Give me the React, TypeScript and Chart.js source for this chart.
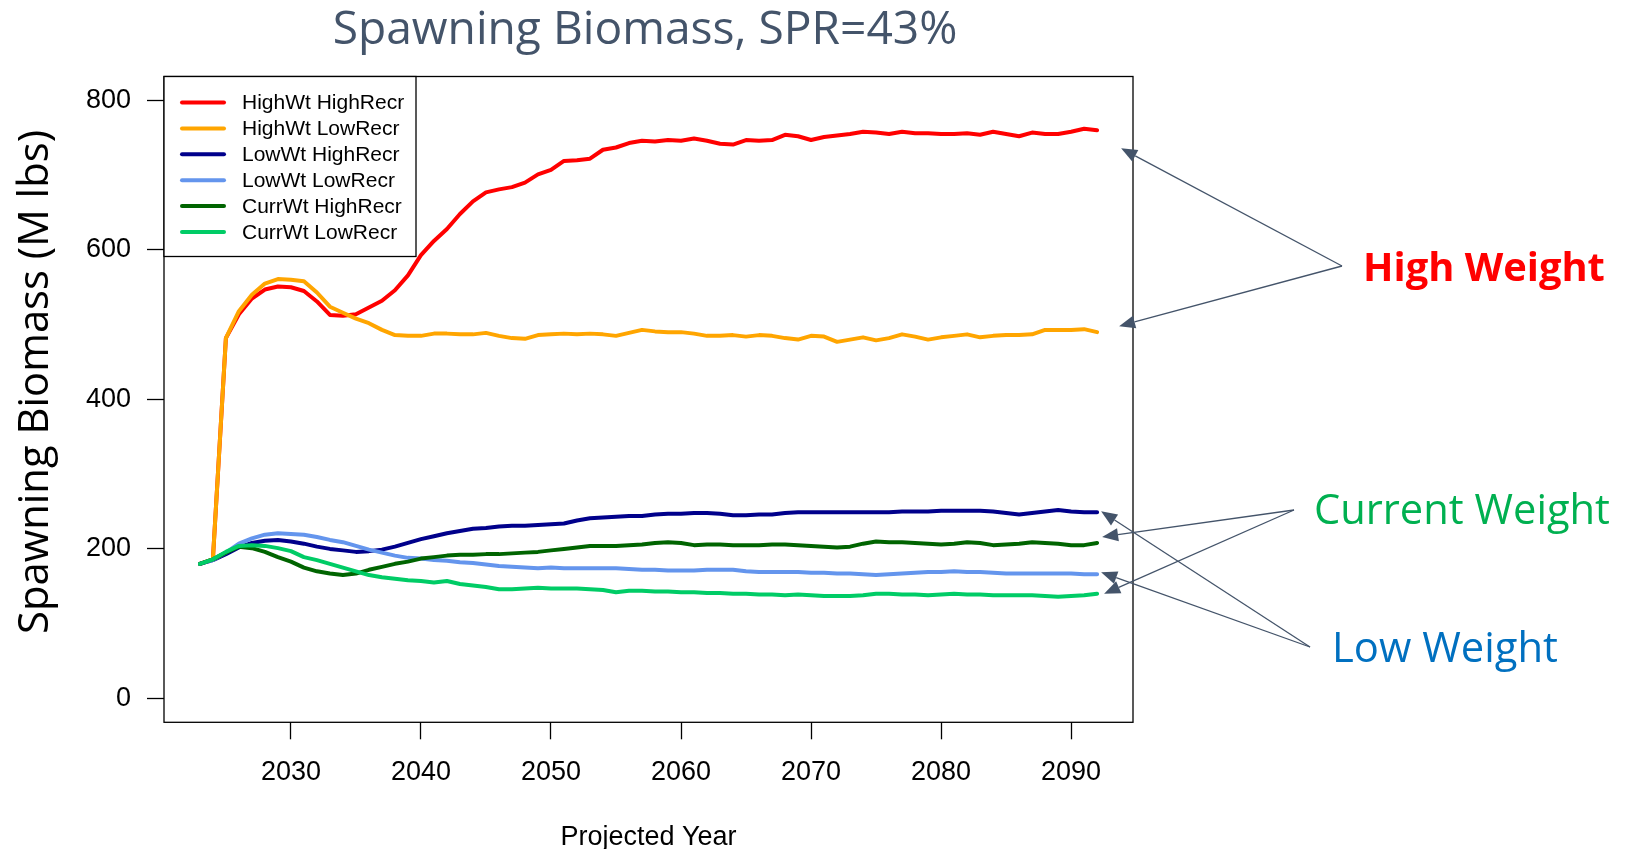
import React, { useEffect, useRef } from "react";
import { Chart, registerables } from "chart.js";

Chart.register(...registerables);

const years = [
  2023, 2024, 2025, 2026, 2027, 2028, 2029, 2030, 2031, 2032,
  2033, 2034, 2035, 2036, 2037, 2038, 2039, 2040, 2041, 2042,
  2043, 2044, 2045, 2046, 2047, 2048, 2049, 2050, 2051, 2052,
  2053, 2054, 2055, 2056, 2057, 2058, 2059, 2060, 2061, 2062,
  2063, 2064, 2065, 2066, 2067, 2068, 2069, 2070, 2071, 2072,
  2073, 2074, 2075, 2076, 2077, 2078, 2079, 2080, 2081, 2082,
  2083, 2084, 2085, 2086, 2087, 2088, 2089, 2090, 2091, 2092,
];

const highWtHighRecr = [
  180, 186, 482, 514, 535, 547, 551, 550, 545, 531,
  513, 512, 514, 523, 532, 546, 566, 593, 612, 628,
  648, 665, 677, 681, 684, 690, 701, 707, 719, 720,
  722, 734, 737, 743, 746, 745, 747, 746, 749, 746,
  742, 741, 747, 746, 747, 754, 752, 747, 751, 753,
  755, 758, 757, 755, 758, 756, 756, 755, 755, 756,
  754, 758, 755, 752, 757, 755, 755, 758, 762, 760,
];

const highWtLowRecr = [
  180, 186, 482, 518, 540, 555, 561, 560, 558, 543,
  524, 516, 508, 502, 493, 486, 485, 485, 488, 488,
  487, 487, 489, 485, 482, 481, 486, 487, 488, 487,
  488, 487, 485, 489, 493, 491, 490, 490, 488, 485,
  485, 486, 484, 486, 485, 482, 480, 485, 484, 477,
  480, 483, 479, 482, 487, 484, 480, 483, 485, 487,
  483, 485, 486, 486, 487, 493, 493, 493, 494, 490,
];

const lowWtHighRecr = [
  180, 185, 193, 202, 208, 211, 212, 210, 207, 203,
  200, 198, 196, 197, 199, 203, 208, 213, 217, 221,
  224, 227, 228, 230, 231, 231, 232, 233, 234, 238,
  241, 242, 243, 244, 244, 246, 247, 247, 248, 248,
  247, 245, 245, 246, 246, 248, 249, 249, 249, 249,
  249, 249, 249, 249, 250, 250, 250, 251, 251, 251,
  251, 250, 248, 246, 248, 250, 252, 250, 249, 249,
];

const lowWtLowRecr = [
  180, 185, 195, 207, 214, 219, 221, 220, 219, 216,
  212, 209, 204, 199, 195, 191, 188, 187, 185, 184,
  182, 181, 179, 177, 176, 175, 174, 175, 174, 174,
  174, 174, 174, 173, 172, 172, 171, 171, 171, 172,
  172, 172, 170, 169, 169, 169, 169, 168, 168, 167,
  167, 166, 165, 166, 167, 168, 169, 169, 170, 169,
  169, 168, 167, 167, 167, 167, 167, 167, 166, 166,
];

const currWtHighRecr = [
  180, 186, 195, 203, 201, 196, 189, 183, 175, 170,
  167, 165, 167, 172, 176, 180, 183, 187, 189, 191,
  192, 192, 193, 193, 194, 195, 196, 198, 200, 202,
  204, 204, 204, 205, 206, 208, 209, 208, 205, 206,
  206, 205, 205, 205, 206, 206, 205, 204, 203, 202,
  203, 207, 210, 209, 209, 208, 207, 206, 207, 209,
  208, 205, 206, 207, 209, 208, 207, 205, 205, 208,
];

const currWtLowRecr = [
  180, 186, 196, 204, 205, 204, 201, 197, 189, 185,
  180, 175, 170, 165, 162, 160, 158, 157, 155, 157,
  153, 151, 149, 146, 146, 147, 148, 147, 147, 147,
  146, 145, 142, 144, 144, 143, 143, 142, 142, 141,
  141, 140, 140, 139, 139, 138, 139, 138, 137, 137,
  137, 138, 140, 140, 139, 139, 138, 139, 140, 139,
  139, 138, 138, 138, 138, 137, 136, 137, 138, 140,
];

const seriesLabels = [
  "HighWt HighRecr",
  "HighWt LowRecr",
  "LowWt HighRecr",
  "LowWt LowRecr",
  "CurrWt HighRecr",
  "CurrWt LowRecr",
];
const seriesValues = [
  highWtHighRecr,
  highWtLowRecr,
  lowWtHighRecr,
  lowWtLowRecr,
  currWtHighRecr,
  currWtLowRecr,
];
const seriesColors = ["#ff0000", "#ffa500", "#00008b", "#6495ed", "#006400", "#00cc66"];

const xTicks = [2030, 2040, 2050, 2060, 2070, 2080, 2090];
const yTicks = [0, 200, 400, 600, 800];

const titleText = "Spawning Biomass, SPR=43%";
const xTitleText = "Projected Year";
const yTitleText = "Spawning Biomass (M lbs)";

const annotationLabels = ["High Weight", "Current Weight", "Low Weight"];
const annotationColors = ["#ff0000", "#00b050", "#0070c0"];
const annotationSeries = [
  [0, 1],
  [4, 5],
  [2, 3],
];

const SLATE = "#44546a";
const ARIAL = "'Liberation Sans', Arial, sans-serif";
const CALIBRI = "'Open Sans', 'Noto Sans', sans-serif";

// layout (pixels)
const annotationLayout = [
  { left: 1363, baseline: 281, width: 242, bold: true, apex: [1342, 266], offs: [[24, 18], [22, -6]] },
  { left: 1314, baseline: 524, width: 296, bold: false, apex: [1294, 510], offs: [[5, -6], [7, 0]] },
  { left: 1332, baseline: 662, width: 226, bold: false, apex: [1310, 647], offs: [[4, -1], [4, -2]] },
];

function fitSize(ctx: CanvasRenderingContext2D, text: string, weight: string, family: string, width: number) {
  ctx.font = `${weight} 100px ${family}`;
  const w = ctx.measureText(text).width;
  return (100 * width) / w;
}

function drawArrow(ctx: CanvasRenderingContext2D, x0: number, y0: number, x1: number, y1: number) {
  const ang = Math.atan2(y1 - y0, x1 - x0);
  const len = 16;
  const half = 6.5;
  const bx = x1 - len * Math.cos(ang);
  const by = y1 - len * Math.sin(ang);
  ctx.beginPath();
  ctx.moveTo(x0, y0);
  ctx.lineTo(bx, by);
  ctx.stroke();
  ctx.beginPath();
  ctx.moveTo(x1, y1);
  ctx.lineTo(bx + half * Math.sin(ang), by - half * Math.cos(ang));
  ctx.lineTo(bx - half * Math.sin(ang), by + half * Math.cos(ang));
  ctx.closePath();
  ctx.fill();
}

const overlayPlugin = {
  id: "overlay",
  afterDraw(chart: any) {
    const { ctx, chartArea: a, scales } = chart;
    const xs = scales.x;
    const ys = scales.y;
    ctx.save();

    // plot box
    ctx.strokeStyle = "#000";
    ctx.lineWidth = 1.3;
    ctx.strokeRect(a.left, a.top, a.right - a.left, a.bottom - a.top);

    // legend
    const lx = a.left;
    const ly = a.top;
    const lw = 252;
    const lh = 180;
    ctx.fillStyle = "#fff";
    ctx.fillRect(lx, ly, lw, lh);
    ctx.strokeRect(lx, ly, lw, lh);
    ctx.font = `21px ${ARIAL}`;
    ctx.textBaseline = "middle";
    ctx.textAlign = "left";
    chart.data.datasets.forEach((ds: any, i: number) => {
      const y = ly + 26 + i * 25.9;
      ctx.strokeStyle = ds.borderColor;
      ctx.lineWidth = 4;
      ctx.lineCap = "round";
      ctx.beginPath();
      ctx.moveTo(lx + 18, y);
      ctx.lineTo(lx + 60, y);
      ctx.stroke();
      ctx.fillStyle = "#000";
      ctx.fillText(ds.label, lx + 78, y + 1);
    });
    ctx.lineCap = "butt";

    // title
    const ts = fitSize(ctx, titleText, "normal", CALIBRI, 625);
    ctx.font = `normal ${ts}px ${CALIBRI}`;
    ctx.fillStyle = SLATE;
    ctx.textAlign = "center";
    ctx.textBaseline = "alphabetic";
    ctx.fillText(titleText, 645, 44);

    // x title
    ctx.font = `27px ${ARIAL}`;
    ctx.fillStyle = "#000";
    ctx.fillText(xTitleText, (a.left + a.right) / 2, 845);

    // y title
    const ys2 = fitSize(ctx, yTitleText, "normal", CALIBRI, 504);
    ctx.save();
    ctx.translate(48, 382);
    ctx.rotate(-Math.PI / 2);
    ctx.font = `normal ${ys2}px ${CALIBRI}`;
    ctx.fillStyle = "#000";
    ctx.textAlign = "center";
    ctx.fillText(yTitleText, 0, 0);
    ctx.restore();

    // annotations
    annotationLabels.forEach((label, k) => {
      const L = annotationLayout[k];
      const weight = L.bold ? "bold" : "normal";
      const size = fitSize(ctx, label, weight, CALIBRI, L.width);
      ctx.font = `${weight} ${size}px ${CALIBRI}`;
      ctx.fillStyle = annotationColors[k];
      ctx.textAlign = "left";
      ctx.textBaseline = "alphabetic";
      ctx.fillText(label, L.left, L.baseline);

      ctx.strokeStyle = SLATE;
      ctx.fillStyle = SLATE;
      ctx.lineWidth = 1.3;
      annotationSeries[k].forEach((si, j) => {
        const vals = seriesValues[si];
        const tx = xs.getPixelForValue(years[years.length - 1]) + L.offs[j][0];
        const ty = ys.getPixelForValue(vals[vals.length - 1]) + L.offs[j][1];
        drawArrow(ctx, L.apex[0], L.apex[1], tx, ty);
      });
    });

    ctx.restore();
  },
};

export default function App() {
  const canvasRef = useRef<HTMLCanvasElement | null>(null);

  useEffect(() => {
    document.body.style.margin = "0";
    document.body.style.overflow = "hidden";
    const canvas = canvasRef.current;
    if (!canvas) return;

    const datasets = seriesLabels.map((label, i) => ({
      label,
      data: years.map((yr, j) => ({ x: yr, y: seriesValues[i][j] })),
      borderColor: seriesColors[i],
      backgroundColor: seriesColors[i],
      borderWidth: 4,
      pointRadius: 0,
      tension: 0,
      fill: false,
      borderCapStyle: "round" as const,
      borderJoinStyle: "round" as const,
      order: seriesLabels.length - i,
    }));

    const chart = new Chart(canvas, {
      type: "line",
      data: { datasets },
      plugins: [overlayPlugin],
      options: {
        animation: false,
        responsive: false,
        devicePixelRatio: 1,
        events: [],
        layout: { padding: { top: 76.5, right: 498, bottom: 0, left: 0 } },
        plugins: {
          legend: { display: false },
          tooltip: { enabled: false },
          title: { display: false },
        },
        scales: {
          x: {
            type: "linear",
            min: 2020.24,
            max: 2094.76,
            afterFit: (s: any) => {
              s.height = 849 - 722.3;
            },
            afterBuildTicks: (s: any) => {
              s.ticks = xTicks.map((v) => ({ value: v }));
            },
            grid: {
              display: true,
              drawOnChartArea: false,
              drawTicks: true,
              tickLength: 17,
              tickColor: "#000",
              tickWidth: 1.3,
              color: "#000",
            },
            border: { display: false },
            ticks: {
              color: "#000",
              font: { family: ARIAL, size: 27 },
              padding: 17,
              maxRotation: 0,
              autoSkip: false,
              callback: (v: any) => String(v),
            },
          },
          y: {
            type: "linear",
            min: -32,
            max: 832,
            afterFit: (s: any) => {
              s.width = 164;
            },
            afterBuildTicks: (s: any) => {
              s.ticks = yTicks.map((v) => ({ value: v }));
            },
            grid: {
              display: true,
              drawOnChartArea: false,
              drawTicks: true,
              tickLength: 17,
              tickColor: "#000",
              tickWidth: 1.3,
              color: "#000",
            },
            border: { display: false },
            ticks: {
              color: "#000",
              font: { family: ARIAL, size: 27 },
              padding: 16,
              autoSkip: false,
              callback: (v: any) => String(v),
            },
          },
        },
      },
    });

    return () => {
      chart.destroy();
    };
  }, []);

  return (
    <div style={{ width: 1631, height: 849, background: "#fff" }}>
      <canvas ref={canvasRef} width={1631} height={849} style={{ display: "block" }} />
    </div>
  );
}
